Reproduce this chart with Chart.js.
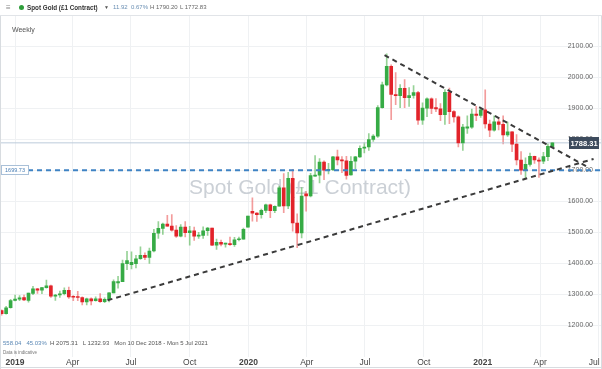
<!DOCTYPE html>
<html><head><meta charset="utf-8">
<script src="https://cdn.jsdelivr.net/npm/chart.js@4.4.0/dist/chart.umd.min.js"></script>
<style>
html,body{margin:0;padding:0;background:#fff;overflow:hidden;}
#wrap{position:relative;width:602px;height:369px;font-family:"Liberation Sans",Arial,sans-serif;}
#c{position:absolute;left:0;top:0;}
#hdr{position:absolute;left:0;top:0;width:602px;height:15px;border-bottom:1px solid #e1e4e8;background:#fff;font-size:6px;line-height:15px;white-space:nowrap;color:#333;}
#hdr span{position:absolute;top:0;}
.ov{position:absolute;white-space:nowrap;}
</style></head>
<body><div id="wrap">
<canvas id="c" width="602" height="369"></canvas>
<div id="hdr">
 <span style="left:6px;color:#888;font-size:8px;">&#8801;</span>
 <span style="left:19px;top:5px;width:5px;height:5px;border-radius:50%;background:#2f9e3b;"></span>
 <span style="left:27px;font-weight:bold;font-size:6.3px;color:#333;">Spot Gold (£1 Contract)</span>
 <span style="left:104px;color:#555;font-size:5px;">&#9660;</span>
 <span style="left:113px;color:#6a8fb3;">11.92</span>
 <span style="left:131px;color:#6a8fb3;">0.67%</span>
 <span style="left:150px;color:#666;">H 1790.20</span>
 <span style="left:180px;color:#666;">L 1772.83</span>
</div>
<div class="ov" style="left:12px;top:26px;font-size:7px;color:#555;">Weekly</div>
<div class="ov" style="left:3px;top:340px;font-size:6px;color:#555;"><span style="color:#5b88b5">558.04</span>&nbsp;&nbsp;&nbsp;<span style="color:#5b88b5">45.03%</span>&nbsp;&nbsp;H 2075.31&nbsp;&nbsp;&nbsp;L 1232.93&nbsp;&nbsp;&nbsp;Mon 10 Dec 2018 - Mon 5 Jul 2021</div>
<div class="ov" style="left:3px;top:350px;font-size:4.5px;color:#777;">Data is indicative</div>
</div>
<script>
// ---- data ----
const weekStart = '2018-12-10';
const opens  = [1248,1238,1257,1281,1285,1290,1281,1303,1318,1314,1322,1328,1294,1298,1302,1313,1292,1291,1290,1276,1286,1280,1286,1277,1284,1305,1337,1341,1399,1396,1399,1415,1426,1419,1440,1497,1513,1527,1520,1507,1488,1517,1499,1505,1488,1490,1505,1514,1459,1468,1462,1464,1460,1476,1478,1517,1568,1562,1557,1571,1589,1570,1584,1643,1585,1674,1530,1498,1624,1617,1681,1684,1726,1700,1702,1743,1733,1730,1685,1729,1743,1771,1775,1799,1810,1902,1975,2035,1944,1940,1964,1934,1941,1950,1861,1900,1930,1902,1898,1879,1951,1889,1872,1788,1836,1839,1881,1877,1895,1849,1829,1856,1848,1814,1824,1784,1733,1700,1719,1745,1733,1729,1744,1776.39];
const highs  = [1250,1262,1284,1298,1296,1298,1304,1326,1320,1323,1346,1330,1300,1311,1321,1324,1296,1310,1292,1288,1289,1292,1303,1289,1306,1347,1358,1411,1439,1437,1426,1453,1434,1449,1510,1535,1530,1555,1557,1522,1525,1535,1519,1517,1500,1518,1516,1514,1478,1475,1465,1485,1484,1485,1514,1552,1611,1564,1575,1591,1591,1585,1649,1689,1693,1703,1560,1644,1631,1690,1747,1738,1730,1722,1745,1765,1744,1745,1744,1745,1779,1789,1818,1815,1908,1984,2075,2040,2015,1976,1992,1966,1973,1954,1917,1933,1933,1931,1915,1960,1965,1892,1875,1848,1875,1897,1906,1900,1959,1862,1875,1870,1875,1855,1825,1815,1760,1740,1755,1746,1740,1758,1785,1790.20];
const lows   = [1233,1236,1256,1279,1280,1280,1275,1299,1303,1302,1320,1290,1281,1290,1298,1287,1280,1280,1266,1266,1266,1278,1274,1273,1276,1305,1320,1341,1380,1382,1385,1413,1412,1400,1437,1480,1493,1519,1504,1484,1485,1485,1459,1474,1480,1480,1490,1457,1445,1456,1452,1458,1455,1472,1478,1517,1536,1535,1546,1563,1547,1563,1584,1563,1576,1504,1451,1482,1568,1614,1680,1659,1670,1688,1699,1717,1692,1671,1684,1705,1741,1756,1764,1793,1806,1900,1972,1863,1911,1902,1902,1906,1932,1848,1848,1873,1882,1889,1860,1848,1850,1855,1775,1764,1819,1835,1860,1870,1836,1808,1826,1830,1785,1809,1760,1717,1687,1676,1713,1722,1677,1721,1731,1772.83];
const closes = [1238,1257,1280,1285,1289,1282,1304,1318,1314,1322,1328,1294,1298,1302,1313,1292,1291,1290,1276,1286,1279,1286,1277,1284,1305,1341,1341,1399,1409,1403,1415,1426,1419,1440,1497,1513,1527,1520,1507,1488,1517,1499,1505,1488,1490,1505,1514,1459,1468,1462,1464,1460,1476,1478,1510,1552,1562,1557,1571,1589,1570,1584,1643,1585,1674,1530,1498,1617,1617,1683,1684,1726,1700,1702,1743,1733,1730,1683,1729,1743,1771,1775,1799,1810,1902,1975,2035,1944,1940,1964,1934,1941,1950,1861,1900,1930,1899,1898,1879,1951,1889,1872,1788,1839,1840,1881,1877,1895,1849,1829,1856,1848,1814,1824,1784,1733,1700,1719,1745,1733,1729,1744,1777,1788.31];
const quarterDays   = [22,112,203,295,387,478,569,661,753,843,934];
const quarterLabels = ['2019','Apr','Jul','Oct','2020','Apr','Jul','Oct','2021','Apr','Jul'];
const yTicks = [1200,1300,1400,1500,1600,1700,1800,1900,2000,2100];
const supportLine    = [[166.6,1281],[926.4,1736.4]];   // [day, price]
const resistanceLine = [[599.6,2071],[917,1710.6]];
const levelLine = 1699.73;
const lastPrice = 1788.31;
const dayRange = [0, 938];
const yRange = [1099, 2197];

// ---- build ----
const dayOf = i => 7*i + 1;
const up = closes.map((c,i)=> c >= opens[i]);
const GREEN='#36ab45', RED='#e2232a', GW='rgba(80,180,80,0.6)', RW='rgba(235,90,90,0.6)';
const wickData = highs.map((h,i)=>({x:dayOf(i), y:[lows[i], h]}));
const bodyData = opens.map((o,i)=>({x:dayOf(i), y:[Math.min(o,closes[i]), Math.max(o,closes[i])]}));
const toPts = seg => seg.map(p=>({x:p[0], y:p[1]}));

const overlay = {
  id:'overlay',
  beforeDatasetsDraw(chart){
    const {ctx} = chart;
    ctx.save();
    ctx.font = '21px "Liberation Sans", Arial, sans-serif';
    ctx.fillStyle = '#cbd0d6';
    ctx.textAlign='center'; ctx.textBaseline='middle';
    ctx.fillText('Spot Gold (£1 Contract)', 300, 188);
    ctx.restore();
  },
  afterDatasetsDraw(chart){
    const {ctx} = chart;
    const ys = chart.scales.y;
    ctx.save();
    let y = Math.round(ys.getPixelForValue(levelLine));
    ctx.fillStyle='#fff'; ctx.strokeStyle='#a9c0d8'; ctx.lineWidth=1;
    ctx.fillRect(1.5,y-4.5,27,9); ctx.strokeRect(1.5,y-4.5,27,9);
    ctx.fillStyle='#4a7fb5'; ctx.font='5.5px "Liberation Sans", Arial';
    ctx.textAlign='center'; ctx.textBaseline='middle';
    ctx.fillText(levelLine.toFixed(2), 15, y+0.5);
    y = Math.round(ys.getPixelForValue(lastPrice));
    ctx.fillStyle='#3d4b5d';
    ctx.fillRect(569,y-6,30,12);
    ctx.fillStyle='#fff'; ctx.font='bold 7.5px "Liberation Sans", Arial';
    ctx.fillText(lastPrice.toFixed(2), 584, y+0.5);
    ctx.strokeStyle='#d8dce0'; ctx.lineWidth=1;
    ctx.beginPath(); ctx.moveTo(0.5,16); ctx.lineTo(0.5,369); ctx.stroke();
    ctx.beginPath(); ctx.moveTo(601.5,16); ctx.lineTo(601.5,369); ctx.stroke();
    ctx.beginPath(); ctx.moveTo(0,367.5); ctx.lineTo(602,367.5); ctx.stroke();
    ctx.restore();
  }
};

new Chart(document.getElementById('c'), {
  type:'bar',
  data:{ datasets:[
    {type:'line', data:toPts(supportLine), borderColor:'#3b3b3b', borderWidth:2, borderDash:[5,4], pointRadius:0, order:0},
    {type:'line', data:toPts(resistanceLine), borderColor:'#3b3b3b', borderWidth:2, borderDash:[5,4], pointRadius:0, order:0},
    {type:'line', data:[{x:dayRange[0],y:levelLine},{x:dayRange[1],y:levelLine}], borderColor:'#3f83c4', borderWidth:2, borderDash:[5,4], pointRadius:0, order:1},
    {type:'line', data:[{x:dayRange[0],y:lastPrice},{x:dayRange[1],y:lastPrice}], borderColor:'#bccbdb', borderWidth:1, pointRadius:0, order:3},
    {data:bodyData, backgroundColor:up.map(u=>u?GREEN:RED), barThickness:3, grouped:false, minBarLength:1, order:2},
    {data:wickData, backgroundColor:up.map(u=>u?GW:RW), barThickness:1, grouped:false, order:4}
  ]},
  options:{
    responsive:false, animation:false,
    layout:{autoPadding:false, padding:{top:16,left:1,right:1,bottom:0}},
    plugins:{legend:{display:false}, tooltip:{enabled:false}},
    scales:{
      x:{type:'linear', min:dayRange[0], max:dayRange[1], offset:false,
         grid:{color:'#eff1f3', offset:false, drawTicks:false},
         border:{display:false},
         afterBuildTicks:s=>{ s.ticks = quarterDays.map(v=>({value:v})); },
         afterFit:s=>{ s.paddingLeft = 0; s.paddingRight = 0; },
         ticks:{autoSkip:false, maxRotation:0, padding:1, color:'#444',
           font:c=>({size:8.5, family:'"Liberation Sans", Arial', weight: (c.index%4===0)?'bold':'normal'}),
           callback:(v,i)=> i === quarterLabels.length-1 ? quarterLabels[i] + '\u2002\u2002' : quarterLabels[i]}},
      y:{position:'right', min:yRange[0], max:yRange[1],
         grid:{color:'#eff1f3', drawTicks:false},
         border:{display:false},
         afterBuildTicks:s=>{ s.ticks = yTicks.map(v=>({value:v})); },
         afterFit:s=>{ s.width = 0; },
         ticks:{mirror:true, padding:-8, color:'#666', font:{size:7, family:'"Liberation Sans", Arial'},
           callback:v=>Number(v).toFixed(2)}}
    }
  },
  plugins:[overlay]
});
</script>
</body></html>
